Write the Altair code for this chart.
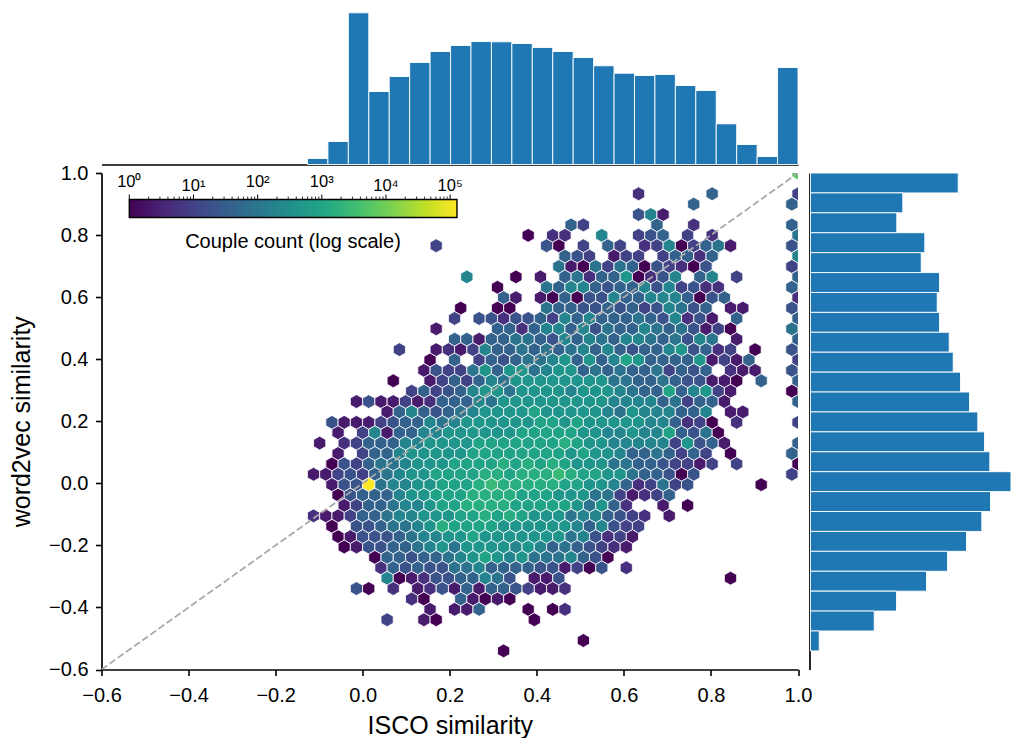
import altair as alt
import pandas as pd

FONT = "Liberation Sans"

# Top histogram (ISCO similarity): 24 equal bins, relative heights
TOP_START, TOP_STEP = -0.1268, 0.04695
TOP_VALUES = [6, 23, 151.7, 73, 88, 102, 113, 119, 123, 122.7, 121, 117, 113, 107, 98.7,
              91.3, 89, 90, 79, 74, 40.7, 20, 8, 97]

# Right histogram (word2vec similarity), listed from the top bin downwards
RIGHT_START, RIGHT_STEP = 1.0, 0.06417
RIGHT_VALUES = [147.7, 92.3, 86.3, 114.3, 110.7, 129, 126.7, 129, 138.7, 142.7, 150, 159,
                167.3, 174, 179.3, 209, 180, 171.3, 156, 137, 116, 86, 63.7, 8.7]

# Hexbin grid steps (columns are half a hexagon apart)
HEX_DX, HEX_DY = 0.0140875, 0.03348

# log10(count) estimated per colour level
LEVELS = {"0": 0, "1": 0.35, "2": 0.7, "3": 1.0, "4": 1.3, "5": 1.6, "6": 1.95, "7": 2.3,
          "8": 2.65, "9": 2.95, "a": 3.2, "b": 3.45, "c": 3.8, "y": 5.107}

# (row from the top, column of the first cell, levels of every second column; "." = empty)
HEX_ROWS = [
    (0, 80, "c"),
    (2, 54, "2"), (2, 66, "5"), (2, 80, "3"),
    (3, 63, "5"), (3, 79, "5"),
    (4, 54, "471"),
    (5, 43, "53"), (5, 57, "5"), (5, 63, "2"), (5, 79, "5"),
    (6, 36, "0"), (6, 40, "22"), (6, 48, "7"), (6, 54, "345"), (6, 62, "3"), (6, 66, "2"), (6, 80, "6"),
    (7, 21, "3"), (7, 39, "40"), (7, 45, "3"), (7, 49, "53"), (7, 55, "23703561"), (7, 79, "4"),
    (8, 42, "543"), (8, 50, "133"), (8, 58, "35525"), (8, 80, "7"),
    (9, 41, "6106365043204"), (9, 79, "3"),
    (10, 26, "7"), (10, 34, "0"), (10, 38, "1"), (10, 42, "5625580247.57"), (10, 70, "3"), (10, 80, "5"),
    (11, 31, "0"), (11, 39, "657754557473422"), (11, 79, "5"),
    (12, 32, "51"), (12, 38, "1050447557775045"), (12, 80, "2"),
    (13, 25, "0"), (13, 31, "00"), (13, 39, "65544545347645"), (13, 69, "11"), (13, 79, "4"),
    (14, 24, "3"), (14, 28, "44244537575556547241"), (14, 70, "5"), (14, 80, "5"),
    (15, 21, "1"), (15, 31, "55257757465576564130"), (15, 79, "6"),
    (16, 24, "5515566547576577656476"), (16, 70, "1"), (16, 80, "5"),
    (17, 15, "3"), (17, 21, "1213755656567575455784523"), (17, 73, "0"), (17, 79, "4"),
    (18, 20, "0"), (18, 24, "5"), (18, 28, "35456678585798555581315"), (18, 80, "3"),
    (19, 19, "143368588678856565563545.211"), (19, 79, "4"),
    (20, 14, "0"), (20, 20, "1353576 88888888 66 55 6 5 44 11 0 . 5"), (20, 80, "5"),
    (21, 17, "353457886888878887655957831"), (21, 79, "0"),
    (22, 8, "14113125557 6 888888888 7777 5 6 3 5 5 1"), (22, 80, "5"),
    (23, 13, "157545678888988888768777557.11"),
    (24, 4, "4111 34 55 76 7 888888 99 8 9 88888 77 5 2 3 0 . 2"), (24, 80, "3"),
    (25, 5, "1.3715577 888888 99999 88 77 8 77 9 5 4 6 0"),
    (26, 2, "1.23 555 77 8888 9999999 a 9 88 77777 3 8 4 5 1"), (26, 80, "5"),
    (27, 5, "1.3557 88888 99999999 8988 7 55 6 5 3 5 3 . 0"), (27, 79, "5"),
    (28, 4, "043566 7 888 9999 a9a9a 9 888 66 55 4 33 1 3 . 3"), (28, 80, "0"),
    (29, 1, "11343 5 6 7 88 9999 aa 9 aaa b a 99 88 6 55 4 0 4"), (29, 79, "3"),
    (30, 4, "144y 6 77 88 999 a b aaaaa 99 88 7 5 2 3 6 3 4"), (30, 74, "0"),
    (31, 5, "0 4 555 7 88 999 aaaa 999 888 66 3 1 2 3 5"),
    (32, 6, "13 55 6 77 8 99 aaaa 99999 8 6 8 5 2 .. 1 . 0"),
    (33, 1, "2 11 3 55 6 77 888 99 a 9 a 9 888 6 77 5 4 3 2 . 1"),
    (34, 4, "0 . 44 5 66 7 8 a 9999 888888 7 5 7 4 33"),
    (35, 5, "0 1 444 5 6 77 88 9 8888888 6 7 4 2 3 1"),
    (36, 6, "0 1 44 55 6 7 8 6 8888 7 8 7 5 6 5 4 3 2 1"),
    (37, 11, "0 55 4 55 6 7 8 9 8 7 8 666 7 5 4 0"),
    (38, 12, "2 5 4 5 44 66 7 5555 44 1 3 0 4 . 2"),
    (39, 13, "7 0 1 2 44 55 7 6 4 . 11 4"), (39, 69, "0"),
    (40, 8, "40"), (40, 14, "2"), (40, 18, "1 2 4 1 5 1 55 4 3 11 2"),
    (41, 17, "20"), (41, 25, "51010"),
    (42, 20, "1"), (42, 24, "115"), (42, 36, "0"), (42, 40, "02"),
    (43, 13, "3"), (43, 19, "10"), (43, 37, "0"),
    (45, 45, "0"),
    (46, 32, "0"),
]

# Colour bar
COUNT_MAX = 128000
BAR_EXPONENTS = [0, 1, 2, 3, 4, 5]
BAR_LABELS = ["10⁰", "10¹", "10²", "10³", "10⁴", "10⁵"]
BAR_MULTIPLES = [2, 3, 4, 5, 6, 7, 8, 9]
VIRIDIS = ["#440154", "#482475", "#414487", "#355f8d", "#2a788e", "#21918c",
           "#22a884", "#44bf70", "#7ad151", "#bddf26", "#fde725"]
TICKS_XY = [-0.6, -0.4, -0.2, 0.0, 0.2, 0.4, 0.6, 0.8, 1.0]

hex_records = []
for row, start, text in HEX_ROWS:
    for pos, ch in enumerate(text.replace(" ", "")):
        if ch == ".":
            continue
        col = start + 2 * pos
        hex_records.append({"x": 1.0 - (80 - col) * HEX_DX, "y": 1.0 - row * HEX_DY,
                            "count": 10 ** LEVELS[ch]})
hex_df = pd.DataFrame(hex_records)

top_df = pd.DataFrame({"x0": [TOP_START + n * TOP_STEP for n in range(len(TOP_VALUES))],
                       "x1": [TOP_START + (n + 1) * TOP_STEP for n in range(len(TOP_VALUES))],
                       "v": TOP_VALUES})
right_df = pd.DataFrame({"y0": [RIGHT_START - n * RIGHT_STEP for n in range(len(RIGHT_VALUES))],
                         "y1": [RIGHT_START - (n + 1) * RIGHT_STEP for n in range(len(RIGHT_VALUES))],
                         "v": RIGHT_VALUES})

W, H = 696.5, 496.5
DOM = [-0.6, 1.0]
xscale = alt.Scale(domain=DOM, nice=False, zero=False)
yscale = alt.Scale(domain=DOM, nice=False, zero=False)
axis_common = dict(values=TICKS_XY, format=".1f", grid=False, domainColor="black", domainWidth=1.7,
                   tickColor="black", tickWidth=1.6, tickSize=6, labelColor="black",
                   labelFont=FONT, labelFontSize=20, labelFlush=False,
                   labelOverlap=False, titleColor="black",
                   titleFont=FONT, titleFontSize=25, titleFontWeight="normal")

HEX_PATH = "M0,-1L0.881,-0.5L0.881,0.5L0,1L-0.881,0.5L-0.881,-0.5Z"
hexes = alt.Chart(hex_df).mark_point(
    filled=True, shape=HEX_PATH, size=192, stroke="white", strokeWidth=0.8, opacity=1, clip=True
).encode(
    x=alt.X("x:Q", scale=xscale, axis=alt.Axis(title="ISCO similarity", labelPadding=10, titlePadding=8, **axis_common)),
    y=alt.Y("y:Q", scale=yscale, axis=alt.Axis(title="word2vec similarity", labelPadding=7.5, titlePadding=14, **axis_common)),
    color=alt.Color("count:Q", legend=None,
                    scale=alt.Scale(type="log", scheme="viridis", domain=[1, COUNT_MAX])),
)

diag = alt.Chart(pd.DataFrame({"x": DOM, "y": DOM})).mark_line(
    color="#a9a9a9", strokeWidth=1.8, strokeDash=[7, 3], clip=True
).encode(x=alt.X("x:Q", scale=xscale, axis=None), y=alt.Y("y:Q", scale=yscale))

cb_scale = alt.Scale(type="log", domain=[1, COUNT_MAX], range=[27.8, 355.5], nice=False)
cb_rect = alt.Chart(pd.DataFrame({"a": [1], "b": [COUNT_MAX]})).mark_rect(
    fill=alt.Gradient(gradient="linear", x1=0, x2=1, y1=0, y2=0,
                      stops=[alt.GradientStop(offset=n / (len(VIRIDIS) - 1), color=c)
                             for n, c in enumerate(VIRIDIS)]),
    stroke="black", strokeWidth=1.4,
).encode(x=alt.X("a:Q", scale=cb_scale, axis=None), x2="b:Q",
         y=alt.value(26.5), y2=alt.value(44.5))

major = pd.DataFrame({"v": [10.0 ** e for e in BAR_EXPONENTS], "t": BAR_LABELS})
minor = pd.DataFrame({"v": [m * 10.0 ** e for e in BAR_EXPONENTS for m in BAR_MULTIPLES
                            if m * 10.0 ** e < COUNT_MAX]})
cb_major = alt.Chart(major).mark_rule(color="black", strokeWidth=1).encode(
    x=alt.X("v:Q", scale=cb_scale, axis=None), y=alt.value(21.5), y2=alt.value(26.5))
cb_minor = alt.Chart(minor).mark_rule(color="black", strokeWidth=0.8).encode(
    x=alt.X("v:Q", scale=cb_scale, axis=None), y=alt.value(23.5), y2=alt.value(26.5))
cb_text_hi = alt.Chart(major.iloc[[0, 2, 3]]).mark_text(
    font=FONT, fontSize=16.5, baseline="alphabetic", align="center", color="black"
).encode(x=alt.X("v:Q", scale=cb_scale, axis=None), y=alt.value(14.2), text="t:N")
cb_text_lo = alt.Chart(major.iloc[[1, 4, 5]]).mark_text(
    font=FONT, fontSize=16.5, baseline="alphabetic", align="center", color="black"
).encode(x=alt.X("v:Q", scale=cb_scale, axis=None), y=alt.value(17.5), text="t:N")
cb_title = alt.Chart(pd.DataFrame({"t": ["Couple count (log scale)"]})).mark_text(
    font=FONT, fontSize=20, baseline="middle", align="center", color="black"
).encode(x=alt.value(191.5), y=alt.value(68.5), text="t:N")

main = alt.layer(hexes, diag, cb_rect, cb_minor, cb_major, cb_text_hi, cb_text_lo, cb_title).resolve_scale(
    x="independent").properties(width=W, height=H)

top = alt.Chart(top_df).mark_rect(color="#1f77b4", stroke="white", strokeWidth=0.9).encode(
    x=alt.X("x0:Q", scale=xscale, axis=alt.Axis(labels=False, ticks=False, title=None, grid=False,
                                                domainColor="black", domainWidth=1.7)),
    x2="x1:Q",
    y=alt.Y("v:Q", scale=alt.Scale(domain=[0, 156.5]), axis=None),
    y2=alt.datum(0),
).properties(width=W, height=156.5)

# The page leaves 1003px of width, so the longest bar is cut at the panel's edge
right = alt.Chart(right_df).mark_rect(color="#1f77b4", stroke="white", strokeWidth=0.9, clip=True).encode(
    y=alt.Y("y0:Q", scale=yscale, axis=alt.Axis(labels=False, ticks=False, title=None, grid=False,
                                                domainColor="black", domainWidth=1.7)),
    y2="y1:Q",
    x=alt.X("v:Q", scale=alt.Scale(domain=[0, 201], range=[1, 202]), axis=None),
    x2=alt.datum(0),
).properties(width=201, height=H)

lower = alt.hconcat(main, right, spacing=11, bounds="flush")
chart = alt.vconcat(top, lower, spacing=8, bounds="flush").properties(
    padding={"left": 1.5, "top": 0, "right": 0, "bottom": 0}
).configure_view(stroke=None)

chart.save("out.html", embed_options={"renderer": "svg", "actions": False})
